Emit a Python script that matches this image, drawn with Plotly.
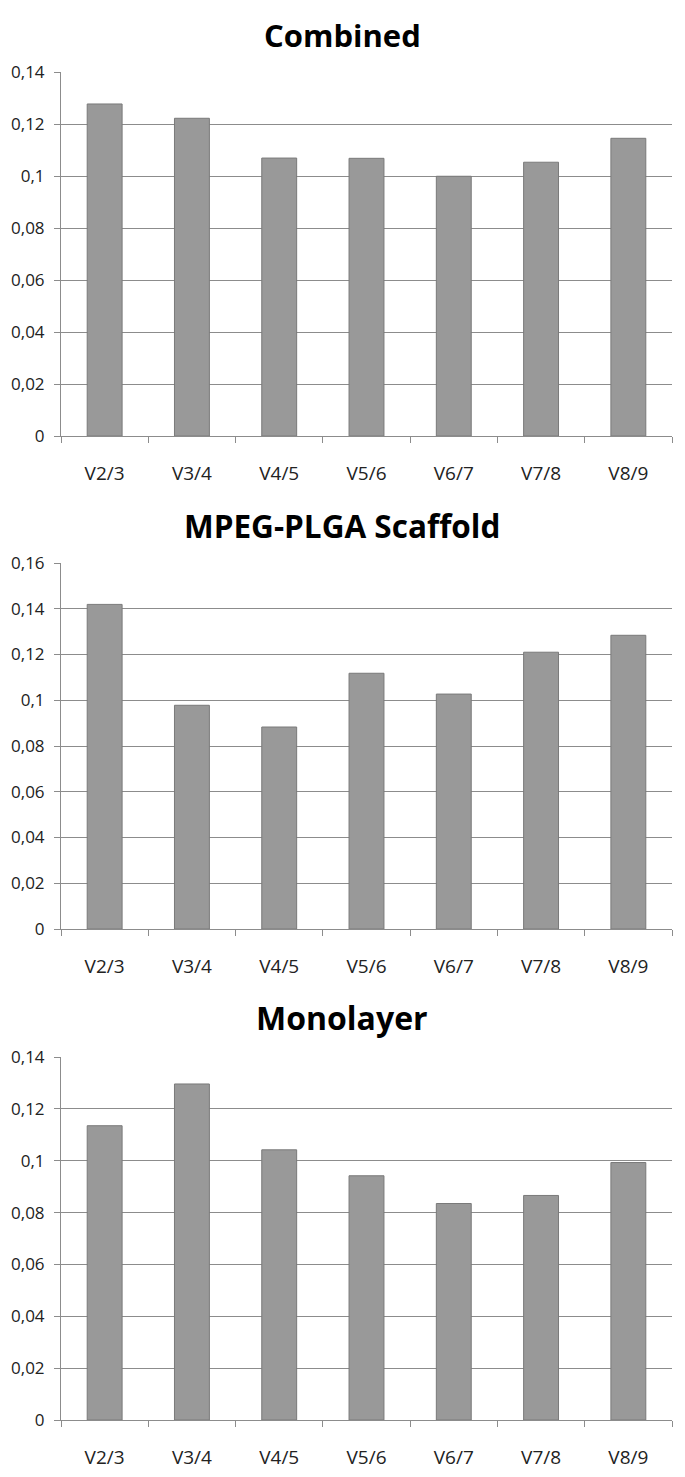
import plotly.graph_objects as go

categories = ["V2/3", "V3/4", "V4/5", "V5/6", "V6/7", "V7/8", "V8/9"]
combined = [0.1277, 0.1222, 0.1069, 0.1068, 0.0999, 0.1053, 0.1145]
scaffold = [0.1419, 0.0978, 0.0883, 0.1118, 0.1027, 0.1210, 0.1284]
monolayer = [0.1135, 0.1296, 0.1042, 0.0942, 0.0835, 0.0866, 0.0993]
titles = ["Combined", "MPEG-PLGA Scaffold", "Monolayer"]
yticks_a = [0, 0.02, 0.04, 0.06, 0.08, 0.10, 0.12, 0.14]
ytext_a = ["0", "0,02", "0,04", "0,06", "0,08", "0,1", "0,12", "0,14"]
yticks_b = [0, 0.02, 0.04, 0.06, 0.08, 0.10, 0.12, 0.14, 0.16]
ytext_b = ["0", "0,02", "0,04", "0,06", "0,08", "0,1", "0,12", "0,14", "0,16"]

W, H = 685, 1477
OFF = 8  # page body margin
panels = [
    (combined, yticks_a, ytext_a, 0.14, 72, 436, 35, 31),
    (scaffold, yticks_b, ytext_b, 0.16, 563, 929, 526, 31.5),
    (monolayer, yticks_a, ytext_a, 0.14, 1057, 1420, 1017, 32),
]
font = "Open Sans, Liberation Sans, sans-serif"
fig = go.Figure()
annotations = []
for i, (vals, tv, tt, ymax, ytop, ybot, ytitle, tsize) in enumerate(panels):
    n = "" if i == 0 else str(i + 1)
    fig.add_trace(go.Bar(
        x=categories, y=vals, xaxis="x" + n, yaxis="y" + n,
        marker=dict(color="#999999", line=dict(color="#7a7a7a", width=1)),
        width=0.4, showlegend=False,
    ))
    dom_y = [(H - (ybot - OFF)) / H, (H - (ytop - OFF)) / H]
    fig.update_layout(**{
        "xaxis" + n: dict(
            domain=[(61 - OFF) / W, (672 - OFF) / W], anchor="y" + n, type="category",
            showline=True, linecolor="#8c8c8c", linewidth=1, automargin=False,
            ticks="outside", tickson="boundaries", ticklen=6, tickcolor="#8c8c8c",
            tickfont=dict(family=font, size=19, color="#222"),
            ticklabelstandoff=20, showgrid=False,
        ),
        "yaxis" + n: dict(
            domain=dom_y, anchor="x" + n, range=[0, ymax], automargin=False,
            tickvals=tv, ticktext=tt, showline=True, linecolor="#8c8c8c",
            linewidth=1, ticks="outside", ticklen=6, tickcolor="#8c8c8c",
            showgrid=True, gridcolor="#8c8c8c", gridwidth=1, zeroline=False,
            tickfont=dict(family=font, size=17, color="#222"),
            ticklabelstandoff=6,
        ),
    })
    annotations.append(dict(
        text="<b>" + titles[i] + "</b>", x=(342 - OFF) / W, xref="paper",
        y=(H - (ytitle - OFF)) / H, yref="paper", yanchor="middle", xanchor="center",
        showarrow=False, font=dict(family=font, size=tsize, color="#000"),
    ))

fig.update_layout(
    width=W, height=H, margin=dict(l=0, r=0, t=0, b=0),
    plot_bgcolor="white", paper_bgcolor="white", annotations=annotations,
    bargap=0.6,
)
fig.write_html("out.html")
